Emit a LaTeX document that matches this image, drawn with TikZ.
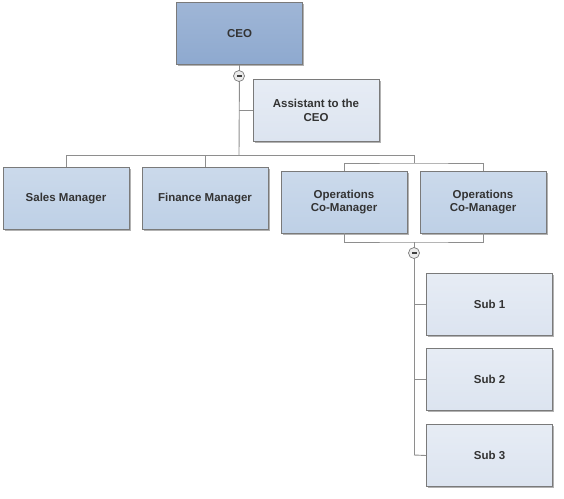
\documentclass[tikz,border=0pt]{standalone}
\usepackage{fontspec}
\setmainfont{Liberation Sans}
\usetikzlibrary{calc}
\definecolor{ceofill}{HTML}{8EA9CF}
\definecolor{midfill}{HTML}{BED0E6}
\definecolor{lightfill}{HTML}{DCE4F0}
\definecolor{edge}{HTML}{7A7A7A}
\definecolor{txt}{HTML}{333333}
\tikzset{
  box/.style={draw=edge, line width=0.8pt, minimum width=126pt, minimum height=62pt,
    inner sep=2pt, align=center, text=txt, font=\bfseries\fontsize{11.5}{13.5}\selectfont,
    preaction={fill=black!30, transform canvas={xshift=1.5pt,yshift=-1.5pt}}},
  ceobox/.style={box, top color=ceofill!85!white, bottom color=ceofill},
  midbox/.style={box, top color=midfill!80!white, bottom color=midfill},
  lightbox/.style={box, top color=lightfill!70!white, bottom color=lightfill},
  conn/.style={draw=edge!85!white, line width=0.9pt},
  toggle/.style={circle, draw=edge, line width=0.7pt, fill=black!8, minimum size=11pt, inner sep=0pt}
}
\begin{document}
\begin{tikzpicture}[x=1pt,y=-1pt]
\useasboundingbox (0,0) rectangle (564,498);
\coordinate (j1) at (239,155);
\coordinate (j2) at (414,155);
\coordinate (j3) at (414,163);
\coordinate (j4) at (414,242);
\coordinate (j5) at (414,455);

\node[ceobox] (ceo) at (239.5,33.5) {CEO};
\node[lightbox] (asst) at (316,110.5) {Assistant to the\\CEO};
\node[midbox] (sales) at (66,198.5) {Sales Manager};
\node[midbox] (fin) at (205,198.5) {Finance Manager};
\node[midbox] (ops1) at (344,202) {Operations\\Co-Manager};
\node[midbox] (ops2) at (483,202) {Operations\\Co-Manager};
\node[lightbox] (s1) at (489.5,304) {Sub 1};
\node[lightbox] (s2) at (489.5,379.5) {Sub 2};
\node[lightbox] (s3) at (489.5,455.5) {Sub 3};

\path[conn] (ceo.south) -- (j1);
\path[conn] (asst.west) -- (asst.west -| j1);
\path[conn] (sales.north) |- (j2);
\path[conn] (fin.north) -- (fin.north |- j1);
\path[conn] (j2) -- (j3);
\path[conn] (ops1.north) |- (j3) -| (ops2.north);
\path[conn] (ops1.south) |- (j4) -| (ops2.south);
\path[conn] (j4) -- (j5);
\path[conn] (s1.west) -- (s1.west -| j4);
\path[conn] (s2.west) -- (s2.west -| j4);
\path[conn] (s3.west) -- (j5);

\node[toggle] (t1) at (239,76) {};
\node[toggle] (t2) at (414,253) {};
\fill[black!75] ($(t1.center)+(-2.5,-1)$) rectangle ($(t1.center)+(2.5,1)$);
\fill[black!75] ($(t2.center)+(-2.5,-1)$) rectangle ($(t2.center)+(2.5,1)$);
\end{tikzpicture}
\end{document}
